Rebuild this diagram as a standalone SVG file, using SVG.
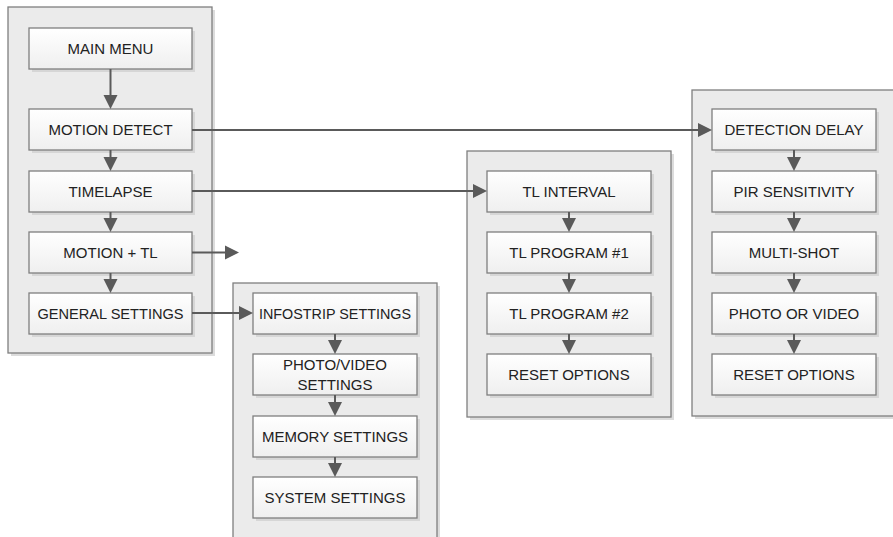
<svg xmlns="http://www.w3.org/2000/svg" width="893" height="537" viewBox="0 0 893 537">
<defs>
<linearGradient id="boxg" x1="0" y1="0" x2="0" y2="1">
<stop offset="0" stop-color="#ffffff"/>
<stop offset="1" stop-color="#efefef"/>
</linearGradient>
<marker id="ah" markerUnits="userSpaceOnUse" markerWidth="15" markerHeight="16" viewBox="0 -8 15 16" refX="0" refY="0" orient="auto">
<path d="M0,-7 L14,0 L0,7 Z" fill="#5a5a5a"/>
</marker>
</defs>
<style>
.pshadow{fill:#dcdcdc}
.panel{fill:#ebebeb;stroke:#7f7f7f;stroke-width:1.3}
.bshadow{fill:#d6d6d6}
.box{fill:url(#boxg);stroke:#7f7f7f;stroke-width:1.3}
.lbl{font-family:"Liberation Sans",Arial,sans-serif;font-size:15px;fill:#222222;text-anchor:middle}
.con{stroke:#5a5a5a;stroke-width:2;fill:none;marker-end:url(#ah)}
</style>
<rect width="893" height="537" fill="#ffffff"/>

<g id="panel-main">
<rect class="pshadow" x="11" y="10" width="204" height="346"/>
<rect class="panel" x="8" y="7" width="204" height="346"/>
</g>
<g id="panel-timelapse">
<rect class="pshadow" x="470" y="154" width="204" height="266"/>
<rect class="panel" x="467" y="151" width="204" height="266"/>
</g>
<g id="panel-motion">
<rect class="pshadow" x="695" y="93" width="204" height="326"/>
<rect class="panel" x="692" y="90" width="204" height="326"/>
</g>
<g id="panel-general">
<rect class="pshadow" x="236" y="286" width="204" height="270"/>
<rect class="panel" x="233" y="283" width="204" height="270"/>
</g>

<g id="n-main-menu"><rect class="bshadow" x="32" y="31" width="163" height="41"/><rect class="box" x="29" y="28" width="163" height="41"/><text class="lbl" x="110.5" y="54">MAIN MENU</text></g>
<g id="n-motion-detect"><rect class="bshadow" x="32" y="112" width="163" height="41"/><rect class="box" x="29" y="109" width="163" height="41"/><text class="lbl" x="110.5" y="135">MOTION DETECT</text></g>
<g id="n-timelapse"><rect class="bshadow" x="32" y="174" width="163" height="41"/><rect class="box" x="29" y="171" width="163" height="41"/><text class="lbl" x="110.5" y="197">TIMELAPSE</text></g>
<g id="n-motion-tl"><rect class="bshadow" x="32" y="235" width="163" height="41"/><rect class="box" x="29" y="232" width="163" height="41"/><text class="lbl" x="110.5" y="258">MOTION + TL</text></g>
<g id="n-general-settings"><rect class="bshadow" x="32" y="296" width="163" height="41"/><rect class="box" x="29" y="293" width="163" height="41"/><text class="lbl" x="110.5" y="319" textLength="146" lengthAdjust="spacingAndGlyphs">GENERAL SETTINGS</text></g>

<g id="n-tl-interval"><rect class="bshadow" x="490" y="174" width="164" height="41"/><rect class="box" x="487" y="171" width="164" height="41"/><text class="lbl" x="569" y="197">TL INTERVAL</text></g>
<g id="n-tl-program-1"><rect class="bshadow" x="490" y="235" width="164" height="41"/><rect class="box" x="487" y="232" width="164" height="41"/><text class="lbl" x="569" y="258">TL PROGRAM #1</text></g>
<g id="n-tl-program-2"><rect class="bshadow" x="490" y="296" width="164" height="41"/><rect class="box" x="487" y="293" width="164" height="41"/><text class="lbl" x="569" y="319">TL PROGRAM #2</text></g>
<g id="n-tl-reset"><rect class="bshadow" x="490" y="357" width="164" height="41"/><rect class="box" x="487" y="354" width="164" height="41"/><text class="lbl" x="569" y="380">RESET OPTIONS</text></g>

<g id="n-detection-delay"><rect class="bshadow" x="715" y="112" width="164" height="41"/><rect class="box" x="712" y="109" width="164" height="41"/><text class="lbl" x="794" y="135">DETECTION DELAY</text></g>
<g id="n-pir-sensitivity"><rect class="bshadow" x="715" y="174" width="164" height="41"/><rect class="box" x="712" y="171" width="164" height="41"/><text class="lbl" x="794" y="197">PIR SENSITIVITY</text></g>
<g id="n-multi-shot"><rect class="bshadow" x="715" y="235" width="164" height="41"/><rect class="box" x="712" y="232" width="164" height="41"/><text class="lbl" x="794" y="258">MULTI-SHOT</text></g>
<g id="n-photo-or-video"><rect class="bshadow" x="715" y="296" width="164" height="41"/><rect class="box" x="712" y="293" width="164" height="41"/><text class="lbl" x="794" y="319">PHOTO OR VIDEO</text></g>
<g id="n-md-reset"><rect class="bshadow" x="715" y="357" width="164" height="41"/><rect class="box" x="712" y="354" width="164" height="41"/><text class="lbl" x="794" y="380">RESET OPTIONS</text></g>

<g id="n-infostrip"><rect class="bshadow" x="256" y="296" width="164" height="41"/><rect class="box" x="253" y="293" width="164" height="41"/><text class="lbl" x="335" y="319" textLength="152" lengthAdjust="spacingAndGlyphs">INFOSTRIP SETTINGS</text></g>
<g id="n-photo-video-settings"><rect class="bshadow" x="256" y="357" width="164" height="41"/><rect class="box" x="253" y="354" width="164" height="41"/><text class="lbl" x="335" y="370">PHOTO/VIDEO</text><text class="lbl" x="335" y="390">SETTINGS</text></g>
<g id="n-memory-settings"><rect class="bshadow" x="256" y="419" width="164" height="41"/><rect class="box" x="253" y="416" width="164" height="41"/><text class="lbl" x="335" y="442">MEMORY SETTINGS</text></g>
<g id="n-system-settings"><rect class="bshadow" x="256" y="480" width="164" height="41"/><rect class="box" x="253" y="477" width="164" height="41"/><text class="lbl" x="335" y="503">SYSTEM SETTINGS</text></g>

<g id="connectors">
<line class="con" x1="110.5" y1="69" x2="110.5" y2="95"/>
<line class="con" x1="110.5" y1="150" x2="110.5" y2="157"/>
<line class="con" x1="110.5" y1="212" x2="110.5" y2="218"/>
<line class="con" x1="110.5" y1="273" x2="110.5" y2="279"/>
<line class="con" x1="569" y1="212" x2="569" y2="218"/>
<line class="con" x1="569" y1="273" x2="569" y2="279"/>
<line class="con" x1="569" y1="334" x2="569" y2="340"/>
<line class="con" x1="794" y1="150" x2="794" y2="157"/>
<line class="con" x1="794" y1="212" x2="794" y2="218"/>
<line class="con" x1="794" y1="273" x2="794" y2="279"/>
<line class="con" x1="794" y1="334" x2="794" y2="340"/>
<line class="con" x1="335" y1="334" x2="335" y2="340"/>
<line class="con" x1="335" y1="395" x2="335" y2="402"/>
<line class="con" x1="335" y1="457" x2="335" y2="463"/>
<line class="con" x1="192" y1="130" x2="698" y2="130"/>
<line class="con" x1="192" y1="191" x2="473" y2="191"/>
<line class="con" x1="192" y1="252.5" x2="225" y2="252.5"/>
<line class="con" x1="192" y1="313" x2="239" y2="313"/>
</g>
</svg>
